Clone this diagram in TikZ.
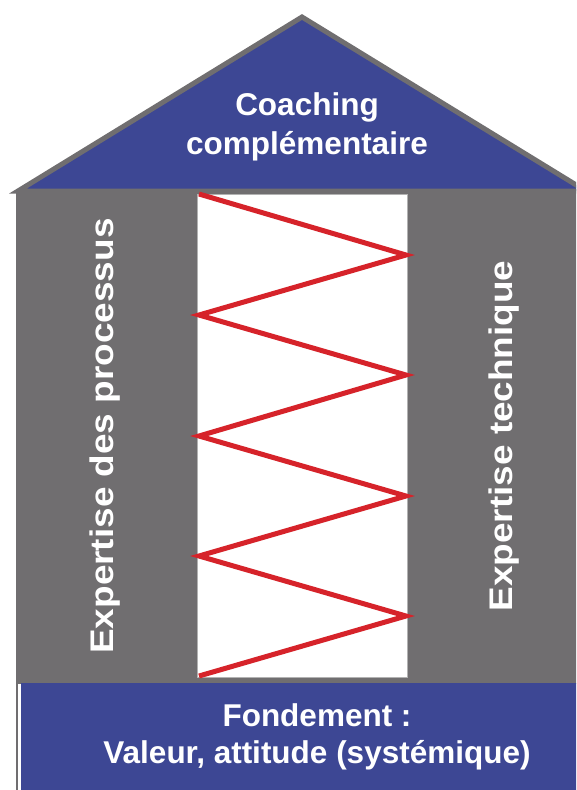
\documentclass[tikz,border=0pt]{standalone}
\usepackage{fontspec}
\newfontfamily\hf{Liberation Sans}
\newfontfamily\hfw{Liberation Sans}[FakeStretch=1.13]
\definecolor{hblue}{RGB}{61,71,148}
\definecolor{hgray}{RGB}{112,110,112}
\definecolor{hred}{RGB}{214,35,42}
\begin{document}
\begin{tikzpicture}[x=1pt,y=-1pt,
  lab/.style={text=white,font=\hf\bfseries\fontsize{31.5}{38}\selectfont,inner sep=0pt,anchor=base},
  vlab/.style={text=white,font=\hfw\bfseries\fontsize{32.7}{38}\selectfont,inner sep=0pt,anchor=base,rotate=90}]
\useasboundingbox (0,0) rectangle (576,790);
\begin{scope}
\clip (0,0) rectangle (576,790);
% roof
\draw[fill=hblue,draw=hgray,line width=5pt,line join=miter] (18,191) -- (302,17) -- (586,191) -- cycle;
% body
\fill[hgray] (16,189) rectangle (590,684);
% window
\draw[fill=white,draw=gray!60,line width=1pt] (197,194) rectangle (407,677);
\coordinate (z0) at (199,194);
\coordinate (z1) at (406,255);
\coordinate (z2) at (199,315);
\coordinate (z3) at (406,375);
\coordinate (z4) at (199,436);
\coordinate (z5) at (406,496);
\coordinate (z6) at (199,556);
\coordinate (z7) at (406,616);
\coordinate (z8) at (199,676);
\draw[hred,line width=5pt,line join=miter] (z0) -- (z1) -- (z2) -- (z3) -- (z4) -- (z5) -- (z6) -- (z7) -- (z8);
% foundation
\fill[hblue] (21,683) rectangle (590,790);
\draw[hgray,line width=1.5pt] (17,683) -- (17,790);
\end{scope}
\node[lab] (roof1) at (307,115) {Coaching};
\node[lab] (roof2) at (307,154) {complémentaire};
\node[lab] (found1) at (317,726) {Fondement :};
\node[lab] (found2) at (317,763) {Valeur, attitude (systémique)};
\node[vlab] (vleft) at (113,436) {Expertise des processus};
\node[vlab] (vright) at (512,436) {Expertise technique};
\end{tikzpicture}
\end{document}
